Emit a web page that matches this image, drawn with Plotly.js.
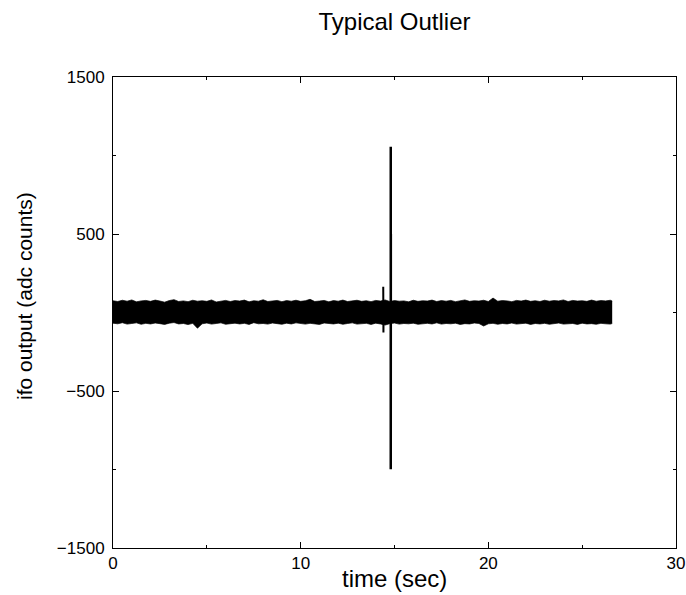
<!DOCTYPE html>
<html>
<head>
<meta charset="utf-8">
<script src="https://cdn.plot.ly/plotly-3.0.1.min.js"></script>
<style>html,body{margin:0;padding:0;background:#fff;}#chart{width:686px;height:595px;}</style>
</head>
<body>
<div id="chart"></div>
<script>
// Noise band envelope (time in sec, adc counts)
const bandTime = [0,0.25,0.5,0.75,1,1.25,1.5,1.75,2,2.25,2.5,2.75,3,3.25,3.5,3.75,4,4.25,4.5,4.75,
  5,5.25,5.5,5.75,6,6.25,6.5,6.75,7,7.25,7.5,7.75,8,8.25,8.5,8.75,9,9.25,9.5,9.75,
  10,10.25,10.5,10.75,11,11.25,11.5,11.75,12,12.25,12.5,12.75,13,13.25,13.5,13.75,14,14.25,14.5,14.75,
  15,15.25,15.5,15.75,16,16.25,16.5,16.75,17,17.25,17.5,17.75,18,18.25,18.5,18.75,19,19.25,19.5,19.75,
  20,20.25,20.5,20.75,21,21.25,21.5,21.75,22,22.25,22.5,22.75,23,23.25,23.5,23.75,24,24.25,24.5,24.75,
  25,25.25,25.5,25.75,26,26.25,26.5,26.6];
const bandUpper = [75,70,78,72,80,68,74,77,71,79,73,66,76,82,70,74,69,78,72,75,
  71,80,67,74,77,70,76,73,79,68,75,72,81,70,74,77,69,76,72,78,
  71,75,84,70,73,77,68,76,72,79,70,74,78,71,75,69,77,73,80,70,
  76,72,74,68,78,71,75,73,79,70,76,72,77,69,74,80,71,75,73,78,
  70,92,72,76,74,69,77,73,79,71,75,70,78,72,76,74,80,70,77,73,
  75,71,79,72,76,74,78,73];
const bandLower = [-68,-72,-65,-74,-70,-66,-75,-69,-73,-67,-71,-76,-68,-64,-73,-70,-77,-69,-100,-72,
  -67,-74,-70,-66,-75,-71,-68,-73,-69,-76,-65,-72,-70,-74,-67,-71,-75,-68,-73,-66,
  -70,-74,-69,-72,-76,-67,-71,-73,-68,-75,-70,-66,-74,-72,-69,-76,-68,-73,-80,-71,
  -67,-74,-70,-72,-68,-75,-71,-69,-73,-66,-74,-70,-72,-68,-76,-71,-73,-67,-70,-86,
  -72,-69,-75,-70,-73,-67,-74,-71,-68,-76,-70,-73,-69,-75,-71,-67,-74,-72,-70,-76,
  -68,-73,-71,-75,-69,-72,-74,-70];
// Outlier spike
const spikeTime = [14.80,14.80,14.805];
const spikeValue = [1056,-999,500];
// Small precursor spike
const smallTime = [14.40,14.41,14.42];
const smallValue = [164,-128,40];

const xTicks = [0,10,20,30];
const yTicks = [-1500,-500,500,1500];
const xMinor = [5,15,25];
const yMinor = [-1000,0,1000];

const traces = [
  {x: bandTime, y: bandLower, type:'scatter', mode:'lines', line:{color:'#000', width:0.7}, hoverinfo:'skip'},
  {x: bandTime, y: bandUpper, type:'scatter', mode:'lines', fill:'tonexty', fillcolor:'#000', line:{color:'#000', width:0.7}, hoverinfo:'skip'},
  {x: spikeTime, y: spikeValue, type:'scatter', mode:'lines', line:{color:'#000', width:2.5}},
  {x: smallTime, y: smallValue, type:'scatter', mode:'lines', line:{color:'#000', width:2}}
];

const font = 'Liberation Sans, Arial, Helvetica, sans-serif';
const axisCommon = {
  showgrid:false, zeroline:false, showline:true, linecolor:'#000', linewidth:1,
  mirror:'ticks', ticks:'inside', ticklen:6, tickcolor:'#000', tickwidth:1,
  tickfont:{family:font, size:17, color:'#000'}
};
const layout = {
  width:686, height:595,
  margin:{l:113, r:10, t:77, b:47},
  paper_bgcolor:'#fff', plot_bgcolor:'#fff',
  showlegend:false,
  title:{text:'Typical Outlier', font:{family:font, size:24, color:'#000'}, x:0.5, xref:'paper', y:1-22/595, yref:'container', yanchor:'middle'},
  xaxis:Object.assign({}, axisCommon, {range:[0,30], tickmode:'array', tickvals:xTicks, ticktext:xTicks.map(String),
    minor:{tickmode:'array', tickvals:xMinor, ticks:'inside', ticklen:3, tickcolor:'#000'}}),
  yaxis:Object.assign({}, axisCommon, {range:[-1500,1500], tickmode:'array', tickvals:yTicks, ticktext:yTicks.map(v=>String(v).replace('-','\u2212')),
    ticklabelstandoff:4,
    minor:{tickmode:'array', tickvals:yMinor, ticks:'inside', ticklen:3, tickcolor:'#000'}}),
  annotations:[
    {text:'time (sec)', xref:'paper', yref:'paper', x:0.5, y:(548-578)/471, xanchor:'center', yanchor:'middle', showarrow:false, font:{family:font, size:24, color:'#000'}},
    {text:'ifo output (adc counts)', xref:'paper', yref:'paper', x:(24-113)/563, y:(548-296)/471, xanchor:'center', yanchor:'middle', textangle:-90, showarrow:false, font:{family:font, size:21, color:'#000'}}
  ]
};
Plotly.newPlot('chart', traces, layout, {displayModeBar:false, staticPlot:true});
</script>
</body>
</html>
